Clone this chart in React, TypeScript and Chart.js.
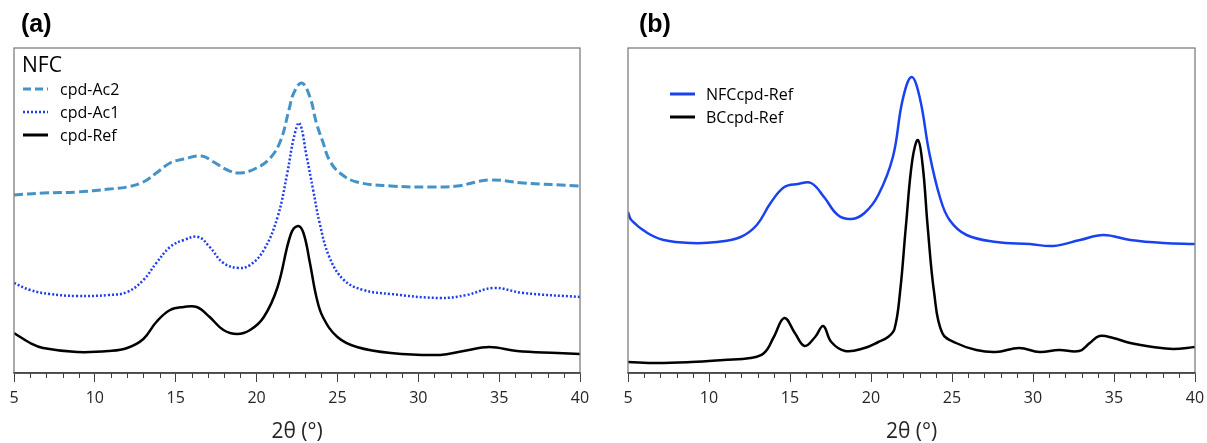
import React, { useEffect, useRef } from "react";
import { Chart, registerables } from "chart.js";
Chart.register(...registerables);

// ---------- Data: panel (a) NFC ----------
const thetaAc2 = [5, 6.8, 8.9, 10.9, 12.0, 13.0, 13.8, 14.65, 15.5, 16.6, 17.35, 18.2, 19.0, 20.0, 20.85, 21.5, 22.0, 22.3, 22.8, 23.3, 23.7, 24.1, 24.5, 25.15, 26.2, 28.3, 30.7, 32.4, 34.4, 36.5, 40];
const intAc2 = [178, 180, 181, 184, 186, 191, 200, 210, 214, 217, 211, 203, 200, 205, 215, 233, 263, 280, 290, 276, 250, 231, 213, 200, 191, 187, 186, 187, 193, 190, 187];

const thetaAc1 = [5, 6, 7.2, 8.9, 10.9, 12.0, 13.0, 13.8, 14.65, 15.5, 16.4, 17.1, 17.95, 18.9, 19.6, 20.45, 21.3, 21.9, 22.3, 22.65, 23.1, 23.5, 23.9, 24.5, 25.4, 26.6, 28.3, 31.35, 33.0, 34.65, 36.5, 40];
const intAc1 = [90, 83, 79, 77, 78, 81, 93, 110, 126, 133, 136, 126, 110, 105, 108, 123, 156, 200, 235, 250, 216, 183, 150, 116, 93, 83, 79, 75, 78, 85, 80, 76];

const thetaRefA = [5, 6, 6.8, 8.9, 10.9, 12.0, 13.0, 13.8, 14.65, 15.5, 16.3, 17.1, 17.95, 18.8, 19.6, 20.45, 21.3, 22.1, 22.55, 22.9, 23.3, 23.7, 24.1, 25.0, 26.2, 28.3, 31.35, 32.8, 34.4, 36.1, 38.6, 40];
const intRefA = [40, 30, 25, 21, 22, 25, 34, 51, 63, 66, 66, 56, 43, 39, 43, 56, 86, 138, 147, 140, 110, 76, 56, 36, 26, 20, 18, 22, 26, 22, 20, 19];

// ---------- Data: panel (b) ----------
const thetaNfcB = [5, 5.2, 6.2, 7.2, 8.9, 10.5, 11.95, 12.95, 13.8, 14.65, 15.5, 16.3, 17.1, 17.95, 18.8, 19.6, 20.45, 21.35, 21.95, 22.5, 23.0, 23.6, 24.25, 24.85, 25.9, 27.75, 29.8, 31.25, 32.9, 34.35, 36.0, 38.05, 40];
const intNfcB = [161, 153, 140, 133, 130, 131, 136, 148, 170, 186, 189, 190, 176, 158, 154, 160, 178, 216, 273, 296, 276, 220, 176, 153, 138, 131, 129, 127, 133, 138, 133, 130, 129];

const thetaBcB = [5, 6.8, 8.9, 10.9, 12.55, 13.4, 14.0, 14.65, 15.3, 15.9, 16.55, 17.05, 17.55, 18.4, 19.6, 20.45, 21.05, 21.45, 21.8, 22.15, 22.55, 22.9, 23.2, 23.5, 23.9, 24.4, 25.25, 26.5, 27.7, 29.15, 30.4, 31.6, 32.85, 33.5, 34.1, 34.95, 36.0, 37.4, 38.65, 40];
const intBcB = [11, 10, 11, 13, 15, 20, 36, 55, 40, 27, 36, 47, 31, 22, 25, 31, 36, 44, 82, 146, 213, 233, 206, 146, 80, 40, 30, 23, 21, 25, 21, 23, 22, 30, 37, 35, 30, 26, 24, 26];

const X_MIN = 5;
const X_MAX = 40;
const X_STEP = 5;
const Y_MIN = 0;
const Y_MAX = 325;

const FONT = "'Open Sans', 'DejaVu Sans', sans-serif";
const AXIS_COLOR = "#404040";

const pts = (xs: number[], ys: number[]) => xs.map((x, i) => ({ x, y: ys[i] }));

const frameAndMinor = {
  id: "frameAndMinor",
  afterDraw(chart: any) {
    const { ctx, chartArea } = chart;
    const xs = chart.scales.x;
    ctx.save();
    ctx.strokeStyle = "#7f7f7f";
    ctx.lineWidth = 1.3;
    ctx.strokeRect(chartArea.left, chartArea.top, chartArea.right - chartArea.left, chartArea.bottom - chartArea.top);
    ctx.strokeStyle = AXIS_COLOR;
    ctx.lineWidth = 1;
    for (let v = X_MIN; v <= X_MAX; v++) {
      if (v % X_STEP === 0) continue;
      const px = Math.round(xs.getPixelForValue(v)) + 0.5;
      ctx.beginPath();
      ctx.moveTo(px, chartArea.bottom);
      ctx.lineTo(px, chartArea.bottom + 5);
      ctx.stroke();
    }
    ctx.lineWidth = 1.3;
    ctx.beginPath();
    ctx.moveTo(chartArea.left, chartArea.bottom);
    ctx.lineTo(chartArea.right, chartArea.bottom);
    ctx.stroke();
    ctx.restore();
  },
};

function makeConfig(datasets: any[], padding: any) {
  return {
    type: "line",
    data: { datasets },
    options: {
      responsive: false,
      animation: false,
      events: [],
      layout: { padding },
      plugins: { legend: { display: false }, tooltip: { enabled: false } },
      elements: { point: { radius: 0 } },
      scales: {
        x: {
          type: "linear",
          min: X_MIN,
          max: X_MAX,
          afterFit: (s: any) => {
            s.height = 70;
          },
          border: { display: true, color: AXIS_COLOR, width: 1.3 },
          grid: { display: true, drawOnChartArea: false, drawTicks: true, tickLength: 9, tickColor: AXIS_COLOR, tickWidth: 1 },
          ticks: { stepSize: X_STEP, padding: 7, color: "#262626", maxRotation: 0, autoSkip: false, font: { family: FONT, size: 16, lineHeight: 1.2 } },
          title: { display: true, text: "2θ (°)", color: "#262626", font: { family: FONT, size: 21, lineHeight: 1 }, padding: { top: 0, bottom: 0 } },
        },
        y: { display: false, min: Y_MIN, max: Y_MAX },
      },
    },
    plugins: [frameAndMinor],
  };
}

function ChartCanvas({ config, width, height, left }: any) {
  const ref = useRef<HTMLCanvasElement | null>(null);
  useEffect(() => {
    if (!ref.current) return;
    const chart = new Chart(ref.current, config);
    return () => chart.destroy();
  }, []);
  return <canvas ref={ref} width={width} height={height} style={{ position: "absolute", left, top: 0, width, height }} />;
}

const lineCommon = { pointRadius: 0, tension: 0.4, fill: false };

const datasetsA = [
  { label: "cpd-Ac2", data: pts(thetaAc2, intAc2), borderColor: "#4393c8", borderWidth: 3, borderDash: [9, 4], ...lineCommon },
  { label: "cpd-Ac1", data: pts(thetaAc1, intAc1), borderColor: "#1e3cf0", borderWidth: 2.5, borderDash: [2, 2], ...lineCommon },
  { label: "cpd-Ref", data: pts(thetaRefA, intRefA), borderColor: "#000000", borderWidth: 2.5, ...lineCommon },
];

const datasetsB = [
  { label: "NFCcpd-Ref", data: pts(thetaNfcB, intNfcB), borderColor: "#1a41f0", borderWidth: 2.5, ...lineCommon },
  { label: "BCcpd-Ref", data: pts(thetaBcB, intBcB), borderColor: "#000000", borderWidth: 2.5, ...lineCommon },
];

function LegendLine({ x, y, color, dash, width }: any) {
  return (
    <svg style={{ position: "absolute", left: x, top: y - 3 }} width={26} height={6}>
      <line x1={0} y1={3} x2={25} y2={3} stroke={color} strokeWidth={width} strokeDasharray={dash} />
    </svg>
  );
}

function LegendText({ x, y, text, size }: any) {
  return (
    <div style={{ position: "absolute", left: x, top: y - 12, height: 24, lineHeight: "24px", fontFamily: FONT, fontSize: size, color: "#000", whiteSpace: "nowrap" }}>
      {text}
    </div>
  );
}

export default function App() {
  const configA = makeConfig(datasetsA, { left: 14, right: 24, top: 48, bottom: 0 });
  const configB = makeConfig(datasetsB, { left: 24, right: 20, top: 48, bottom: 0 });
  const panelLabel = { position: "absolute" as const, top: 10, fontFamily: "'Liberation Sans', Arial, sans-serif", fontWeight: "bold" as const, fontSize: 25, lineHeight: "27px", color: "#000" };
  return (
    <div style={{ position: "absolute", left: 0, top: 0, width: 1207, height: 443, background: "#fff", overflow: "hidden" }}>
      <ChartCanvas config={configA} width={604} height={443} left={0} />
      <ChartCanvas config={configB} width={611} height={443} left={604} />
      <div style={{ ...panelLabel, left: 21 }}>(a)</div>
      <div style={{ ...panelLabel, left: 639 }}>(b)</div>
      <LegendText x={22} y={64} text="NFC" size={21} />
      <LegendLine x={23} y={89} color="#4393c8" dash="8 4" width={3} />
      <LegendText x={60} y={89} text="cpd-Ac2" size={16} />
      <LegendLine x={23} y={112} color="#1e3cf0" dash="2 2" width={2.5} />
      <LegendText x={60} y={112} text="cpd-Ac1" size={16} />
      <LegendLine x={23} y={135} color="#000000" width={3} />
      <LegendText x={60} y={135} text="cpd-Ref" size={16} />
      <LegendLine x={670} y={94} color="#1a41f0" width={3} />
      <LegendText x={706} y={94} text="NFCcpd-Ref" size={16} />
      <LegendLine x={670} y={117} color="#000000" width={3} />
      <LegendText x={706} y={117} text="BCcpd-Ref" size={16} />
    </div>
  );
}
